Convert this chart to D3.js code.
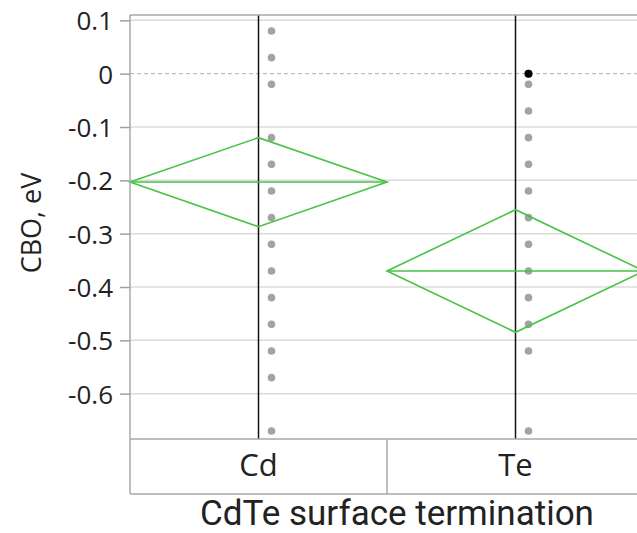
<!DOCTYPE html>
<html>
<head>
<meta charset="utf-8">
<script src="https://cdn.jsdelivr.net/npm/d3@7"></script>
<style>
  body { margin: 0; background: #fff; }
  svg { display: block; }
</style>
</head>
<body>
<div id="chart"></div>
<script>
// categories and values
var categories = ["Cd", "Te"];
var cdValues = [0.08, 0.03, -0.02, -0.12, -0.17, -0.22, -0.27, -0.32, -0.37, -0.42, -0.47, -0.52, -0.57, -0.67];
var teValues = [0, -0.02, -0.07, -0.12, -0.17, -0.22, -0.27, -0.32, -0.37, -0.42, -0.47, -0.52, -0.67];
var highlighted = [{cat: "Te", value: 0}];
// means diamonds: mean, upper, lower
var diamondMeans = [-0.203, -0.37];
var diamondUpper = [-0.12, -0.255];
var diamondLower = [-0.287, -0.485];
var yTicks = [0.1, 0, -0.1, -0.2, -0.3, -0.4, -0.5, -0.6];

var W = 637, H = 533;
var plot = {left: 130, right: 644, top: 15, bottom: 439};
var boxBottom = 494;

var svg = d3.select("#chart").append("svg")
    .attr("width", W)
    .attr("height", H);

var y = d3.scaleLinear().domain([-0.685, 0.11]).range([plot.bottom, plot.top]);
var x = d3.scaleBand().domain(categories).range([plot.left, plot.right]);
var dotOffset = 13;

// grid lines
svg.append("g")
  .selectAll("line")
  .data(yTicks)
  .enter().append("line")
    .attr("x1", plot.left).attr("x2", plot.right)
    .attr("y1", function(d) { return y(d); })
    .attr("y2", function(d) { return y(d); })
    .attr("stroke", function(d) { return d === 0 ? "#b0b0b0" : "#dcdcdc"; })
    .attr("stroke-width", function(d) { return d === 0 ? 1 : 1.5; })
    .attr("stroke-dasharray", function(d) { return d === 0 ? "4,3" : null; });

// y axis
var yAxis = d3.axisLeft(y)
    .tickValues(yTicks)
    .tickSize(10)
    .tickPadding(7)
    .tickFormat(function(d) { return d === 0 ? "0" : d3.format(".1f")(d).replace("\u2212", "-"); });

var gy = svg.append("g")
    .attr("transform", "translate(" + plot.left + ",0)")
    .call(yAxis);
gy.select(".domain").remove();
gy.selectAll(".tick line").attr("stroke", "#a0a0a0").attr("stroke-width", 1.5);
gy.selectAll(".tick text")
    .attr("fill", "#222")
    .style("font-family", "'Open Sans', 'Noto Sans', sans-serif")
    .style("font-size", "26px")
    .attr("dy", "0.36em");

// category vertical lines
svg.append("g")
  .selectAll("line")
  .data(categories)
  .enter().append("line")
    .attr("x1", function(d) { return x(d) + x.bandwidth() / 2; })
    .attr("x2", function(d) { return x(d) + x.bandwidth() / 2; })
    .attr("y1", plot.top)
    .attr("y2", plot.bottom)
    .attr("stroke", "#111")
    .attr("stroke-width", 1.5);

// points
function drawPoints(cat, vals) {
  svg.append("g")
    .selectAll("circle")
    .data(vals)
    .enter().append("circle")
      .attr("cx", x(cat) + x.bandwidth() / 2 + dotOffset)
      .attr("cy", function(d) { return y(d); })
      .attr("r", 3.8)
      .attr("fill", "#a3a3a3");
}
drawPoints("Cd", cdValues);
drawPoints("Te", teValues);

svg.append("g")
  .selectAll("circle")
  .data(highlighted)
  .enter().append("circle")
    .attr("cx", function(d) { return x(d.cat) + x.bandwidth() / 2 + dotOffset; })
    .attr("cy", function(d) { return y(d.value); })
    .attr("r", 4)
    .attr("fill", "#000");

// means diamonds
var green = "#45c445";
categories.forEach(function(cat, i) {
  var x0 = x(cat), x1 = x(cat) + x.bandwidth(), xc = x0 + x.bandwidth() / 2;
  var pts = [[x0, y(diamondMeans[i])], [xc, y(diamondUpper[i])], [x1, y(diamondMeans[i])], [xc, y(diamondLower[i])]];
  svg.append("path")
    .attr("d", d3.line()(pts) + "Z")
    .attr("fill", "none")
    .attr("stroke", green)
    .attr("stroke-width", 1.6);
  svg.append("line")
    .attr("x1", x0).attr("x2", x1)
    .attr("y1", y(diamondMeans[i])).attr("y2", y(diamondMeans[i]))
    .attr("stroke", green)
    .attr("stroke-width", 1.6);
});

// frame
var frame = svg.append("g").attr("stroke", "#a8a8a8").attr("stroke-width", 1.5).attr("fill", "none");
frame.append("line").attr("x1", plot.left).attr("x2", plot.right).attr("y1", plot.top).attr("y2", plot.top);
frame.append("line").attr("x1", plot.left).attr("x2", plot.left).attr("y1", plot.top).attr("y2", boxBottom);
frame.append("line").attr("x1", plot.left).attr("x2", plot.right).attr("y1", plot.bottom).attr("y2", plot.bottom);
frame.append("line").attr("x1", plot.left).attr("x2", plot.right).attr("y1", boxBottom).attr("y2", boxBottom);
frame.selectAll(".div")
  .data(categories.slice(1))
  .enter().append("line")
    .attr("x1", function(d) { return x(d); })
    .attr("x2", function(d) { return x(d); })
    .attr("y1", plot.bottom).attr("y2", boxBottom);

// category labels
svg.append("g")
  .selectAll("text")
  .data(categories)
  .enter().append("text")
    .attr("x", function(d) { return x(d) + x.bandwidth() / 2; })
    .attr("y", 476)
    .attr("text-anchor", "middle")
    .attr("fill", "#222")
    .style("font-family", "'Open Sans', 'Noto Sans', sans-serif")
    .style("font-size", "31px")
    .text(function(d) { return d; });

// axis titles
svg.append("text")
    .attr("x", 397)
    .attr("y", 525)
    .attr("text-anchor", "middle")
    .attr("fill", "#222")
    .style("font-family", "Roboto, sans-serif")
    .style("font-size", "35px")
    .text("CdTe surface termination");

svg.append("text")
    .attr("transform", "translate(41,223) rotate(-90)")
    .attr("text-anchor", "middle")
    .attr("fill", "#222")
    .style("font-family", "'Open Sans', 'Noto Sans', sans-serif")
    .style("font-size", "27px")
    .text("CBO, eV");
</script>
</body>
</html>
